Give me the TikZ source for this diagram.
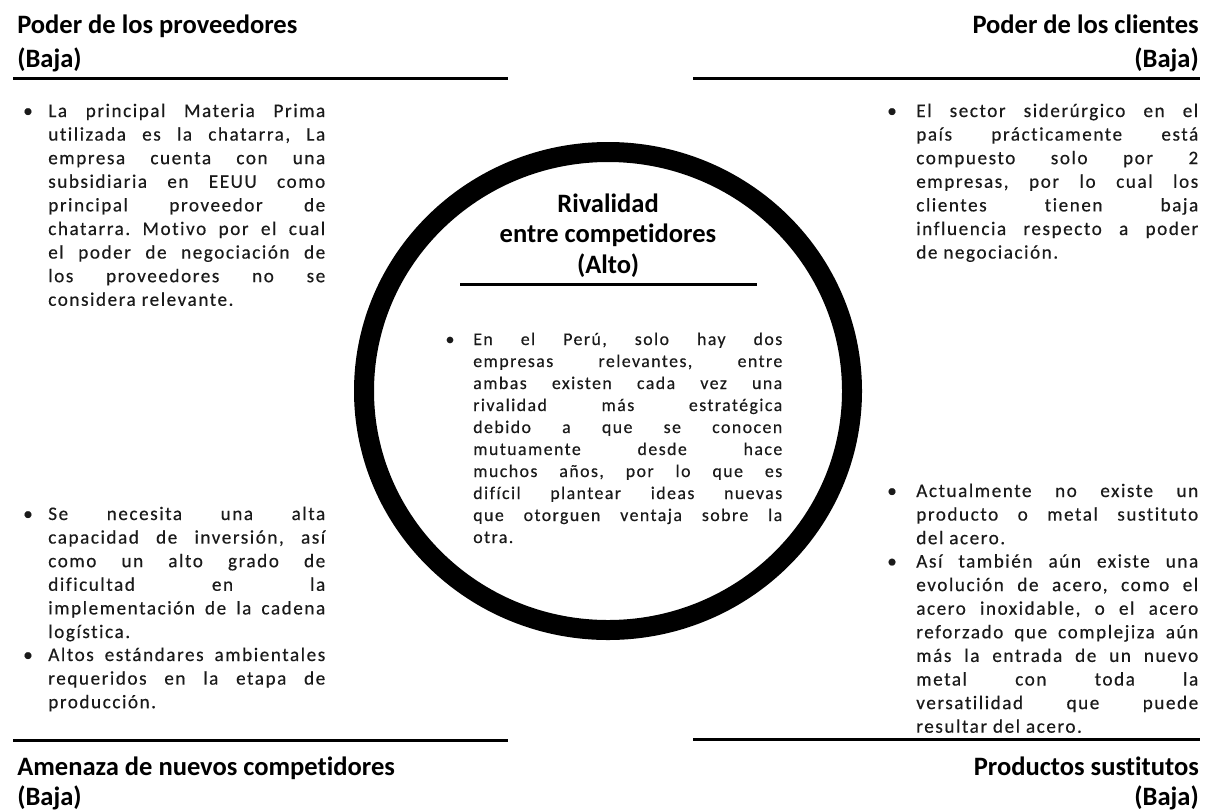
\documentclass[tikz,border=0pt]{standalone}
\usepackage{fontspec}
\setmainfont{Carlito}[Ligatures=NoCommon]
\newfontfamily\bodyfont{Carlito}[LetterSpace=8,Ligatures=NoCommon,FakeBold=0.4]
\frenchspacing
\newdimen\pxu \pxu=0.75pt
\newcommand\jl[1]{\makebox[\linewidth][s]{#1}\\}
\newcommand\bodysize{\bodyfont\fontsize{14.4pt}{17.7pt}\selectfont}
\newcommand\midsize{\bodyfont\fontsize{13.4pt}{16.5pt}\selectfont}
\definecolor{ink}{HTML}{1A1A1A}
\tikzset{
  head/.style={font=\fontsize{19.9pt}{23pt}\selectfont\bfseries, inner sep=0},
  rulestyle/.style={line width=2.25pt},
  ring/.style={line width=15pt},
  bul/.style={font=\bodysize, inner sep=0, anchor=base, text=ink},
  midbul/.style={font=\midsize, inner sep=0, anchor=base, text=ink},
  body/.style={inner sep=0, anchor=base west, text=ink},
}
\begin{document}
\begin{tikzpicture}[x=0.75pt,y=-0.75pt]
\useasboundingbox (0,0) rectangle (1209,811);
% headings
\node[head,anchor=base west] (h1a) at (17,33) {Poder de los proveedores};
\node[head,anchor=base west] (h1b) at (17,67) {(Baja)};
\node[head,anchor=base east] (h2a) at (1199,33) {Poder de los clientes};
\node[head,anchor=base east] (h2b) at (1199,67) {(Baja)};
\node[head,anchor=base west] (h3a) at (17,775) {Amenaza de nuevos competidores};
\node[head,anchor=base west] (h3b) at (17,805) {(Baja)};
\node[head,anchor=base east] (h4a) at (1199,775) {Productos sustitutos};
\node[head,anchor=base east] (h4b) at (1199,805) {(Baja)};
% rules
\coordinate (r1a) at (13,78); \coordinate (r1b) at (508,78);
\coordinate (r2a) at (693,78); \coordinate (r2b) at (1200,78);
\coordinate (r3a) at (13,740); \coordinate (r3b) at (508,740);
\coordinate (r4a) at (693,739); \coordinate (r4b) at (1200,739);
\coordinate (r5a) at (460,284); \coordinate (r5b) at (757,284);
\draw[rulestyle] (r1a) -- (r1b);
\draw[rulestyle] (r2a) -- (r2b);
\draw[rulestyle] (r3a) -- (r3b);
\draw[rulestyle] (r4a) -- (r4b);
\draw[rulestyle] (r5a) -- (r5b);
% ring
\draw[ring] (608,391) ellipse [x radius=244, y radius=239];
% center title
\node[head,anchor=base] (c1) at (608,212) {Rivalidad};
\node[head,anchor=base] (c2) at (608,242) {entre competidores};
\node[head,anchor=base] (c3) at (608,273) {(Alto)};
% top-left
\node[bul] (b1) at (28,117) {\textbullet};
\node[body] (t1) at (48,117) {\parbox[t]{277\pxu}{\bodysize
\jl{La principal Materia Prima}
\jl{utilizada es la chatarra, La}
\jl{empresa cuenta con una}
\jl{subsidiaria en EEUU como}
\jl{principal proveedor de}
\jl{chatarra. Motivo por el cual}
\jl{el poder de negociación de}
\jl{los proveedores no se}
considera relevante.}};
% top-right
\node[bul] (b2) at (892,117) {\textbullet};
\node[body] (t2) at (916,117) {\parbox[t]{282\pxu}{\bodysize
\jl{El sector siderúrgico en el}
\jl{país prácticamente está}
\jl{compuesto solo por 2}
\jl{empresas, por lo cual los}
\jl{clientes tienen baja}
\jl{influencia respecto a poder}
de negociación.}};
% center
\node[midbul] (b3) at (450,345) {\textbullet};
\node[body] (t3) at (473,345) {\parbox[t]{309\pxu}{\midsize
\jl{En el Perú, solo hay dos}
\jl{empresas relevantes, entre}
\jl{ambas existen cada vez una}
\jl{rivalidad más estratégica}
\jl{debido a que se conocen}
\jl{mutuamente desde hace}
\jl{muchos años, por lo que es}
\jl{difícil plantear ideas nuevas}
\jl{que otorguen ventaja sobre la}
otra.}};
% bottom-left
\node[bul] (b4) at (28,520) {\textbullet};
\node[body] (t4) at (48,520) {\parbox[t]{277\pxu}{\bodysize
\jl{Se necesita una alta}
\jl{capacidad de inversión, así}
\jl{como un alto grado de}
\jl{dificultad en la}
\jl{implementación de la cadena}
logística.}};
\node[bul] (b5) at (28,661) {\textbullet};
\node[body] (t5) at (48,661) {\parbox[t]{277\pxu}{\bodysize
\jl{Altos estándares ambientales}
\jl{requeridos en la etapa de}
producción.}};
% bottom-right
\node[bul] (b6) at (892,497) {\textbullet};
\node[body] (t6) at (916,497) {\parbox[t]{282\pxu}{\bodysize
\jl{Actualmente no existe un}
\jl{producto o metal sustituto}
del acero.}};
\node[bul] (b7) at (892,567.5) {\textbullet};
\node[body] (t7) at (916,567.5) {\parbox[t]{282\pxu}{\bodysize
\jl{Así también aún existe una}
\jl{evolución de acero, como el}
\jl{acero inoxidable, o el acero}
\jl{reforzado que complejiza aún}
\jl{más la entrada de un nuevo}
\jl{metal con toda la}
\jl{versatilidad que puede}
resultar del acero.}};
\end{tikzpicture}
\end{document}
